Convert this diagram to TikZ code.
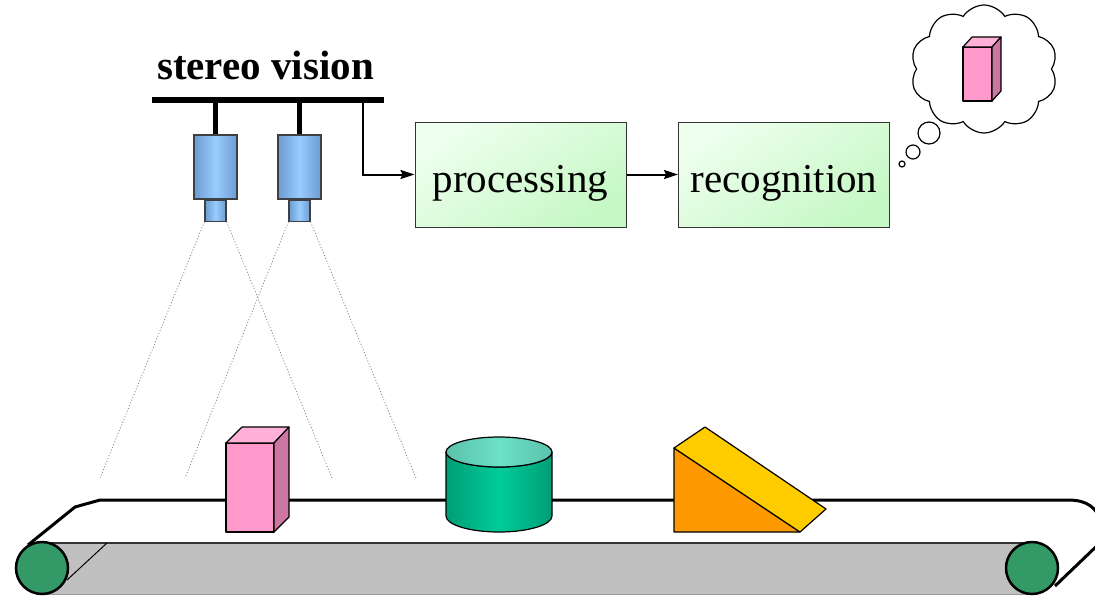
\documentclass[tikz,border=0pt]{standalone}
\usepackage{fontspec}
\setmainfont{Liberation Serif}
\usetikzlibrary{positioning, arrows.meta, shapes.symbols}

\definecolor{camblue}{HTML}{99CCFF}
\definecolor{camdark}{HTML}{6C9CD2}
\definecolor{stagelight}{HTML}{EEFFEE}
\definecolor{stagegreen}{HTML}{C6F8C6}
\definecolor{pinkfront}{HTML}{FF99CC}
\definecolor{pinktop}{HTML}{FFB0D8}
\definecolor{pinkside}{HTML}{CC77A3}
\definecolor{cylmid}{HTML}{00CC99}
\definecolor{cyledge}{HTML}{009E76}
\definecolor{cyltop}{HTML}{6CE0C8}
\definecolor{cyltopedge}{HTML}{5CC2AC}
\definecolor{wedgefront}{HTML}{FF9900}
\definecolor{wedgetop}{HTML}{FFCC00}
\definecolor{rollergreen}{HTML}{339966}
\definecolor{beltgray}{HTML}{C0C0C0}

\tikzset{
    bigtext/.style={font=\fontsize{41}{48}\selectfont},
    stage/.style={draw=black!80, line width=1pt, inner sep=0pt,
        minimum width=211pt, minimum height=105pt,
        text height=35pt, text depth=0pt,
        top color=stagelight, bottom color=stagegreen, shading angle=35,
        bigtext},
    camera/.style={draw=black!75, line width=1.2pt, inner sep=0pt,
        minimum width=43pt, minimum height=64pt,
        left color=camdark, right color=camdark, middle color=camblue},
    lens/.style={camera, minimum width=21pt, minimum height=21pt},
    flow/.style={line width=2pt, -{Stealth[length=14pt, width=9pt, inset=2pt]}},
    ray/.style={gray, line width=0.8pt, dash pattern=on 1pt off 2pt},
    bubble/.style={circle, draw, line width=1.2pt, inner sep=0pt},
    solid edge/.style={draw=black, line width=1.2pt, line join=round},
}

\begin{document}
\begin{tikzpicture}[x=1pt, y=-1pt]

    \useasboundingbox (0,0) rectangle (1095,595);
    \clip (0,0) rectangle (1095,595);

    % Bus and title
    \node[bigtext, font=\bfseries\fontsize{41}{48}\selectfont, anchor=base]
        (title) at (265.5,79) {stereo vision};
    \coordinate (busL) at (152,100);
    \coordinate (busR) at (384,100);
    \coordinate (tap) at (363,100);
    \draw[line width=6pt] (busL) -- (busR);

    % Cameras
    \node[camera] (camL) at (215.5,167) {};
    \node[camera] (camR) at (299.5,167) {};
    \node[lens, below=0pt of camL] (lensL) {};
    \node[lens, below=0pt of camR] (lensR) {};
    \draw[line width=5pt] (camL.north) -- (camL.north |- busL);
    \draw[line width=5pt] (camR.north) -- (camR.north |- busR);

    % Processing chain
    \node[stage] (proc) at (520.5,174.5) {processing};
    \node[stage] (recog) at (784,174.5) {recognition};
    \draw[flow] (tap) |- (proc.west);
    \draw[flow] (proc) -- (recog);

    % Thought cloud
    \node[bubble, minimum size=6pt] (puffS) at (902,164) {};
    \node[bubble, minimum size=14pt] (puffM) at (913,152) {};
    \node[bubble, minimum size=22pt] (puffL) at (929,133) {};
    \node[cloud, draw, line width=1.2pt, cloud puffs=10, cloud puff arc=115,
        aspect=1.15, minimum width=147pt, minimum height=128pt]
        (thought) at (984,69) {};

    % Box in the cloud
    \fill[pinkfront, solid edge] (963,47) rectangle (992,101);
    \fill[pinktop, solid edge] (963,47) -- (972,37) -- (1001,37) -- (992,47) -- cycle;
    \fill[pinkside, solid edge] (992,47) -- (1001,37) -- (1001,91) -- (992,101) -- cycle;

    % View rays
    \coordinate (rayA) at (100,478);
    \coordinate (rayB) at (332,478);
    \coordinate (rayC) at (185,478);
    \coordinate (rayD) at (416,478);
    \draw[ray] (lensL.south west) -- (rayA);
    \draw[ray] (lensL.south east) -- (rayB);
    \draw[ray] (lensR.south west) -- (rayC);
    \draw[ray] (lensR.south east) -- (rayD);

    % Conveyor
    \fill[beltgray] (42,543) rectangle (1032,595);
    \draw[black!80, line width=2pt] (42,543) -- (1032,543);
    \draw[black!40] (42,594) -- (1032,594);
    \draw[line width=1pt] (67,580) -- (107,543);
    \filldraw[fill=rollergreen, line width=2.5pt] (42,568) circle (26);
    \filldraw[fill=rollergreen, line width=2.5pt] (1032,568) circle (26);
    \draw[line width=3pt, line join=round]
        (28,545) -- (75,507) -- (100,500) -- (1068,500)
        .. controls (1088,500) and (1096,508) .. (1102,522);
    \draw[line width=3pt] (1055,586) -- (1102,541);

    % Pink block
    \fill[pinkfront, solid edge] (226,443) rectangle (274,532);
    \fill[pinktop, solid edge] (226,443) -- (242,427) -- (289,427) -- (274,443) -- cycle;
    \fill[pinkside, solid edge] (274,443) -- (289,427) -- (289,517) -- (274,532) -- cycle;

    % Cylinder
    \shadedraw[solid edge, left color=cyledge, right color=cyledge, middle color=cylmid]
        (446,452) -- (446,516) arc[start angle=180, end angle=0, x radius=53, y radius=16]
        -- (552,452) arc[start angle=0, end angle=180, x radius=53, y radius=15] -- cycle;
    \shadedraw[solid edge, left color=cyltopedge, right color=cyltopedge, middle color=cyltop]
        (499,452) ellipse [x radius=53, y radius=15];

    % Wedge
    \fill[wedgefront, solid edge] (674,448) -- (674,532) -- (800,532) -- cycle;
    \fill[wedgetop, solid edge] (674,448) -- (705,427) -- (826,509) -- (800,532) -- cycle;

\end{tikzpicture}
\end{document}
